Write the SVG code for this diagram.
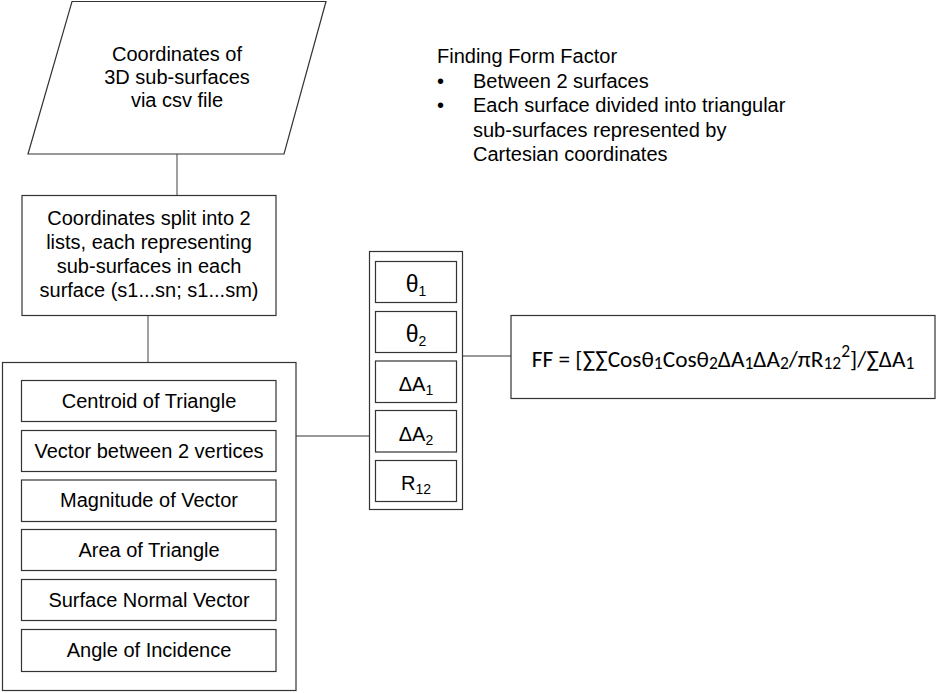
<svg xmlns="http://www.w3.org/2000/svg" width="937" height="693" viewBox="0 0 937 693">
<style>
.box{fill:#fff;stroke:#333;stroke-width:1.2}
.con{stroke:#777;stroke-width:1.4;fill:none}
text{font-family:"Liberation Sans",Arial,sans-serif;font-size:20px;fill:#000}
.c{text-anchor:middle}
.sub{font-size:14px}
.th{font-size:23px}
.ff{font-family:Carlito,Lato,"Liberation Sans",sans-serif;font-size:23.3px}
.ffs{font-size:17.5px}
</style>
<rect width="937" height="693" fill="#fff"/>
<g id="connectors">
<line class="con" x1="177" y1="154" x2="177" y2="195"/>
<line class="con" x1="148" y1="315" x2="148" y2="363"/>
<line class="con" x1="296" y1="436" x2="370" y2="436"/>
<line class="con" x1="463" y1="356" x2="511" y2="356"/>
</g>
<g id="input">
<polygon class="box" points="72,1.5 326,1.5 284,154 28,154"/>
<text class="c" x="177" y="61">Coordinates of</text>
<text class="c" x="177" y="84">3D sub-surfaces</text>
<text class="c" x="177" y="107">via csv file</text>
</g>
<g id="split">
<rect class="box" x="22" y="195.5" width="254" height="120"/>
<text class="c" x="149" y="225">Coordinates split into 2</text>
<text class="c" x="149" y="249">lists, each representing</text>
<text class="c" x="149" y="273">sub-surfaces in each</text>
<text class="c" x="149" y="297">surface (s1...sn; s1...sm)</text>
</g>
<g id="calc">
<rect class="box" x="2.5" y="362.5" width="293.5" height="328"/>
<rect class="box" x="21.5" y="380.5" width="254.5" height="41"/>
<text class="c" x="149" y="407.5">Centroid of Triangle</text>
<rect class="box" x="21.5" y="430.5" width="254.5" height="41"/>
<text class="c" x="149" y="457.5">Vector between 2 vertices</text>
<rect class="box" x="21.5" y="480" width="254.5" height="41.5"/>
<text class="c" x="149" y="507">Magnitude of Vector</text>
<rect class="box" x="21.5" y="529.5" width="254.5" height="41"/>
<text class="c" x="149" y="556.5">Area of Triangle</text>
<rect class="box" x="21.5" y="579.5" width="254.5" height="41"/>
<text class="c" x="149" y="606.5">Surface Normal Vector</text>
<rect class="box" x="21.5" y="629.5" width="254.5" height="42"/>
<text class="c" x="149" y="656.5">Angle of Incidence</text>
</g>
<g id="params">
<rect class="box" x="369.5" y="251.5" width="93" height="258"/>
<rect class="box" x="375.5" y="261.5" width="81" height="41"/>
<text class="c" x="416" y="292"><tspan class="th">θ</tspan><tspan class="sub" dy="4">1</tspan></text>
<rect class="box" x="375.5" y="311.5" width="81" height="41"/>
<text class="c" x="416" y="342"><tspan class="th">θ</tspan><tspan class="sub" dy="4">2</tspan></text>
<rect class="box" x="375.5" y="361" width="81" height="41.5"/>
<text class="c" x="416" y="391">ΔA<tspan class="sub" dy="4">1</tspan></text>
<rect class="box" x="375.5" y="410.5" width="81" height="41.5"/>
<text class="c" x="416" y="441">ΔA<tspan class="sub" dy="4">2</tspan></text>
<rect class="box" x="375.5" y="460.5" width="81" height="41"/>
<text class="c" x="416" y="490">R<tspan class="sub" dy="4">12</tspan></text>
</g>
<g id="formula">
<rect class="box" x="511" y="315.5" width="424" height="83"/>
<text class="ff c" x="723" y="367">FF = [∑∑Cosθ<tspan class="ffs" dy="2">1</tspan><tspan dy="-2">Cosθ</tspan><tspan class="ffs" dy="2">2</tspan><tspan dy="-2">ΔA</tspan><tspan class="ffs" dy="2">1</tspan><tspan dy="-2">ΔA</tspan><tspan class="ffs" dy="2">2</tspan><tspan dy="-2">/πR</tspan><tspan class="ffs" dy="2">12</tspan><tspan class="ffs" dy="-12" font-size="14">2</tspan><tspan dy="10">]/∑ΔA</tspan><tspan class="ffs" dy="2">1</tspan></text>
</g>
<g id="note">
<text x="437" y="63">Finding Form Factor</text>
<text x="437" y="88">•</text>
<text x="473" y="88">Between 2 surfaces</text>
<text x="437" y="112">•</text>
<text x="473" y="112">Each surface divided into triangular</text>
<text x="473" y="137">sub-surfaces represented by</text>
<text x="473" y="161">Cartesian coordinates</text>
</g>
</svg>
